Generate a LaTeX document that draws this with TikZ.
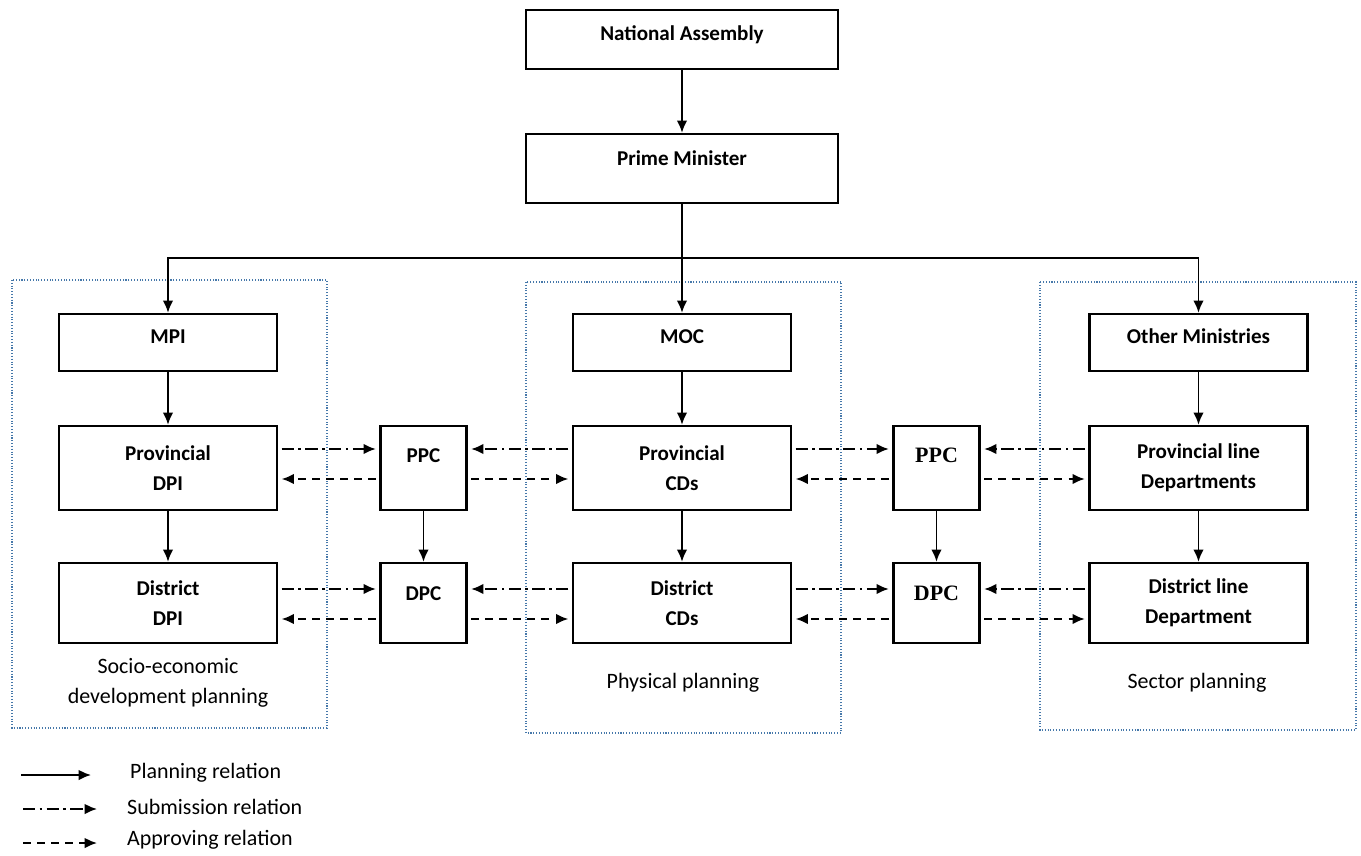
\documentclass[tikz,border=0pt]{standalone}
\usepackage{fontspec}
\setmainfont{Carlito}
\newfontfamily\timesbold{Liberation Serif}
\usepackage{tikz}
\usetikzlibrary{positioning, arrows.meta}
\def\boxwidth{4.36cm}
\def\comwidth{1.72cm}
\tikzstyle{arrow} = [line width=1.1pt,->,>={Latex[length=7pt,width=6pt]}]
\definecolor{framecol}{RGB}{70,120,170}

\begin{document}
\begin{tikzpicture}
    \tikzstyle{box}=[draw=black, line width=1.3pt, minimum width=\boxwidth, inner sep=2pt, align=center, font=\fontsize{12}{17}\selectfont\bfseries]
    \tikzstyle{top box}=[box, text height=8pt, text depth=7.4pt]
    \tikzstyle{level box}=[box, minimum height=1.68cm]
    \tikzstyle{com box}=[box, minimum width=\comwidth, minimum height=1.68cm, text height=8pt]
    \tikzstyle{submit}=[arrow, dash pattern=on 7pt off 2.5pt on 1.5pt off 2.5pt, shorten <=2pt, shorten >=2pt]
    \tikzstyle{approve}=[arrow, dash pattern=on 4.5pt off 3.5pt, shorten <=2pt, shorten >=2pt]
    \tikzstyle{frame}=[draw=framecol, densely dotted, line width=0.6pt]
    \tikzstyle{plain text}=[align=center, font=\fontsize{12.5}{17}\selectfont]

    \useasboundingbox (0,0) rectangle (27.22,-17.12);

    % Draw the dotted frames
    \draw[frame] (0.24,-5.6) rectangle (6.54,-14.56);
    \draw[frame] (10.52,-5.64) rectangle (16.82,-14.66);
    \draw[frame] (20.8,-5.64) rectangle (27.12,-14.6);

    % Draw the top of the tree
    \node[top box, minimum width=6.24cm, minimum height=1.18cm] (NA) at (13.64,-0.79) {National Assembly};
    \node[box, minimum width=6.24cm, minimum height=1.38cm, text height=8pt, text depth=11.4pt] (PM) at (13.64,-3.37) {Prime Minister};

    % Draw the ministries
    \node[top box, minimum height=1.14cm] (MPI) at (3.36,-6.85) {MPI};
    \node[top box, minimum height=1.14cm] (MOC) at (13.64,-6.85) {MOC};
    \node[top box, minimum height=1.14cm] (OM) at (23.97,-6.85) {Other Ministries};

    % Draw the provincial level
    \node[level box] (PDPI) at (3.36,-9.36) {Provincial\\DPI};
    \node[com box, text depth=13.7pt] (PPC1) at (8.47,-9.36) {PPC};
    \node[level box] (PCD) at (13.64,-9.36) {Provincial\\CDs};
    \node[com box, text depth=13.7pt, font=\fontsize{12.5}{17}\timesbold\bfseries] (PPC2) at (18.73,-9.36) {PPC};
    \node[level box] (PLD) at (23.97,-9.36) {Provincial line\\Departments};

    % Draw the district level
    \node[level box, minimum height=1.6cm] (DDPI) at (3.36,-12.06) {District\\DPI};
    \node[com box, minimum height=1.6cm, text depth=11.4pt] (DPC1) at (8.47,-12.06) {DPC};
    \node[level box, minimum height=1.6cm] (DCD) at (13.64,-12.06) {District\\CDs};
    \node[com box, minimum height=1.6cm, text depth=11.4pt, font=\fontsize{12.5}{17}\timesbold\bfseries] (DPC2) at (18.73,-12.06) {DPC};
    \node[level box, minimum height=1.6cm] (DLD) at (23.97,-12.06) {District line\\Department};

    % Draw the frame labels
    \node[plain text] (socio) at (3.36,-13.66) {Socio-economic\\development planning};
    \node[plain text] (phys) at (13.66,-13.66) {Physical planning};
    \node[plain text] (sector) at (23.94,-13.66) {Sector planning};

    % Planning relations
    \coordinate (split) at (13.64,-5.16);
    \draw[arrow] (NA) -- (PM);
    \draw[arrow] (PM) -- (MOC);
    \draw[line width=1.1pt] (PM.south) -- (split);
    \draw[arrow] (split) -| (MPI.north);
    \draw[arrow] (split) -| (OM.north);
    \foreach \a/\b in {MPI/PDPI, PDPI/DDPI, MOC/PCD, PCD/DCD, OM/PLD, PLD/DLD, PPC1/DPC1, PPC2/DPC2}
        \draw[arrow] (\a) -- (\b);

    % Submission and approving relations
    \foreach \b/\c/\bs/\cs/\up/\down in {PDPI/PPC1/east/west/0.38cm/-0.22cm, PCD/PPC1/west/east/0.38cm/-0.22cm,
        PCD/PPC2/east/west/0.38cm/-0.22cm, PLD/PPC2/west/east/0.38cm/-0.22cm,
        DDPI/DPC1/east/west/0.28cm/-0.32cm, DCD/DPC1/west/east/0.28cm/-0.32cm,
        DCD/DPC2/east/west/0.28cm/-0.32cm, DLD/DPC2/west/east/0.28cm/-0.32cm}
    {
        \draw[submit] ([yshift=\up]\b.\bs) -- ([yshift=\up]\c.\cs);
        \draw[approve] ([yshift=\down]\c.\cs) -- ([yshift=\down]\b.\bs);
    }

    % Draw the legend
    \coordinate (L1a) at (0.42,-15.5);
    \coordinate (L1b) at (1.82,-15.5);
    \coordinate (L2a) at (0.46,-16.18);
    \coordinate (L2b) at (1.94,-16.18);
    \coordinate (L3a) at (0.46,-16.86);
    \coordinate (L3b) at (1.94,-16.86);
    \draw[arrow] (L1a) -- (L1b);
    \draw[arrow, dash pattern=on 7pt off 2.5pt on 1.5pt off 2.5pt] (L2a) -- (L2b);
    \draw[arrow, dash pattern=on 4.5pt off 3.5pt] (L3a) -- (L3b);
    \node[plain text, anchor=west] (planning) at (2.48,-15.46) {Planning relation};
    \node[plain text, anchor=west] (submission) at (2.42,-16.14) {Submission relation};
    \node[plain text, anchor=west] (approving) at (2.42,-16.8) {Approving relation};
\end{tikzpicture}
\end{document}
